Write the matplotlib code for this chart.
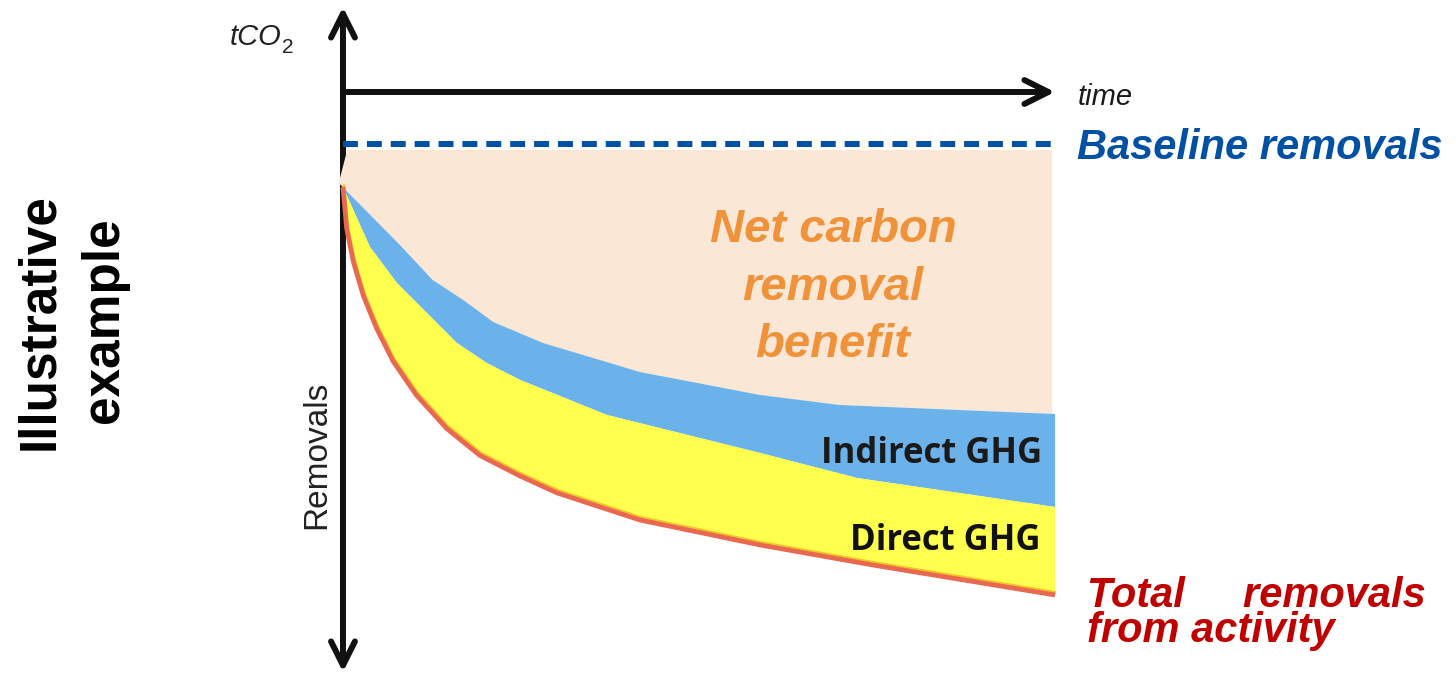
import numpy as np
import matplotlib.pyplot as plt
from matplotlib import transforms

plt.rcParams['font.family'] = ['Liberation Sans', 'DejaVu Sans']

# illustrative values: time in % of the crediting period, tCO2 below the time axis
time_total = [0, 0.52, 1.45, 2.85, 4.73, 7.06, 10.35, 14.56, 19.24, 24.86, 30.1, 41.7, 58.6, 74.4, 100]
total_removals = [-19, -27.3, -33.9, -40.7, -47.3, -53.9, -60.7, -67.3, -72.7, -76.8,
                  -80.2, -85.6, -90.6, -94.6, -100.6]

time_direct = [0, 3.79, 7.58, 13.2, 16, 20.2, 24.9, 37.1, 58.6, 72.2, 100]
direct_upper = [-19, -31, -38.2, -46.2, -50.2, -54.2, -57.6, -64.6, -72.2, -77.2, -83]

time_indirect = [-0.6, 8, 12.6, 16.9, 21.1, 28.1, 41.7, 58.6, 69.8, 100]
indirect_upper = [-18.2, -30.6, -37.6, -41.6, -46, -50.2, -56, -60.6, -62.6, -64.4]

baseline = -10.4
benefit_top = -11.6
benefit_start, benefit_end = 0.6, 99.6
period_end = 100

W, H = 1456, 676
fig = plt.figure(figsize=(W / 100, H / 100), dpi=100)
ax = fig.add_axes([0, 0, 1, 1])
ax.set_xlim(-48.17, 156.32)
ax.set_ylim(-116.8, 18.4)
ax.axis('off')

# axes arrows
arrow_kw = dict(color='#111111', lw=4.3, mutation_scale=43, shrinkA=0, shrinkB=0)
ax.annotate('', xy=(0, 17), xytext=(0, -116), arrowprops=dict(arrowstyle='<->', **arrow_kw), zorder=1)
ax.annotate('', xy=(period_end, 0), xytext=(0, 0), arrowprops=dict(arrowstyle='->', **arrow_kw), zorder=1)

# baseline removals
ax.plot([0, period_end], [baseline, baseline], color='#0050A4', lw=4.3,
        linestyle=(0, (2.5, 1.5)), zorder=3)

# net benefit area
ti = np.array(time_indirect)
vi = np.array(indirect_upper)
keep = ti < benefit_end
corner = np.interp(benefit_end, ti, vi)
ax.fill(np.r_[benefit_start, benefit_end, benefit_end, ti[keep][::-1]],
        np.r_[benefit_top, benefit_top, corner, vi[keep][::-1]], color='#FAE7D6', lw=0, zorder=2)

# indirect GHG band
ax.fill(np.r_[time_indirect, time_direct[::-1]], np.r_[indirect_upper, direct_upper[::-1]],
        color='#6CB2EA', lw=0, zorder=2)

# direct GHG band
ax.fill(np.r_[time_direct, time_total[::-1]], np.r_[direct_upper, total_removals[::-1]],
        color='#FFFF4D', lw=0, zorder=2)

# total removals line with gold rim
up = transforms.offset_copy(ax.transData, fig=fig, x=0.8, y=2.5, units='dots')
ax.plot(time_total, total_removals, color='#F5C32C', lw=2.2, transform=up, zorder=3,
        solid_capstyle='butt')
ax.plot(time_total, total_removals, color='#E86850', lw=3.4, zorder=4, solid_capstyle='butt')


def ftext(x, y, s, **kw):
    fig.text(x / W, 1 - y / H, s, **kw)


ftext(230, 45, 'tCO', fontsize=21, style='italic', color='#222222', va='baseline')
ftext(282, 53, '2', fontsize=15, color='#222222', va='baseline')
ftext(1078, 105, 'time', fontsize=21, style='italic', color='#1a1a1a', va='baseline')
ftext(1077, 159, 'Baseline removals', fontsize=30, style='italic', weight='bold',
      color='#0050A4', va='baseline')

orange = '#F0923A'
for s, yb in [('Net carbon', 242), ('removal', 300), ('benefit', 357)]:
    ftext(833, yb, s, fontsize=34, style='italic', weight='bold', color=orange,
          ha='center', va='baseline')

ftext(1042, 463, 'Indirect GHG', fontsize=25, weight='bold', family='Open Sans',
      color='#1a1a1a', ha='right', va='baseline')
ftext(1040, 550, 'Direct GHG', fontsize=25, weight='bold', family='Open Sans',
      color='#111111', ha='right', va='baseline')

ftext(1087, 642, 'Total     removals\nfrom activity', fontsize=30, style='italic',
      weight='bold', color='#C00000', va='baseline', linespacing=0.85)

ftext(53, 322, 'Illustrative', fontsize=37, weight='bold', color='black', rotation=90,
      rotation_mode='anchor', ha='center', va='baseline')
ftext(118, 320, 'example', fontsize=37, weight='bold', color='black', rotation=90,
      rotation_mode='anchor', ha='center', va='baseline')
ftext(325, 455, 'Removals', fontsize=24, color='#222222', rotation=90,
      rotation_mode='anchor', ha='center', va='baseline')

fig.savefig('out.png', dpi=100)
